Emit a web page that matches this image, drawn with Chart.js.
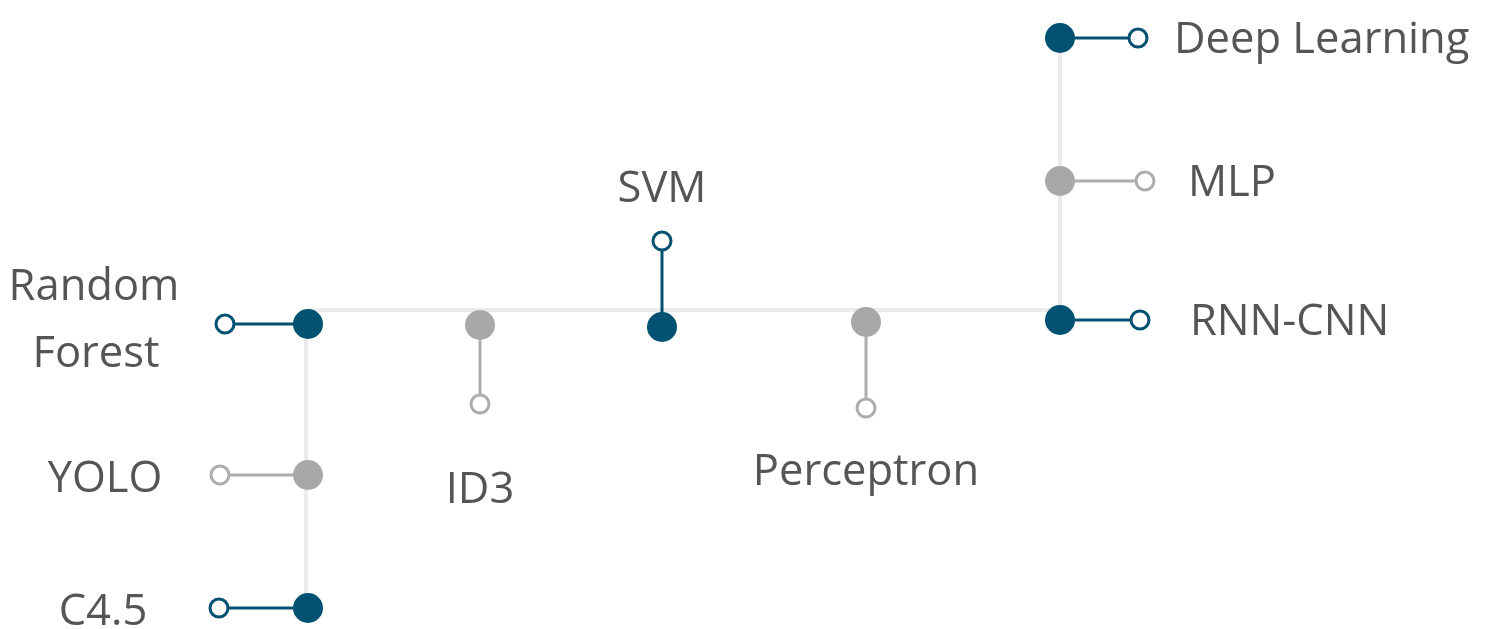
<!DOCTYPE html>
<html>
<head>
<meta charset="utf-8">
<script src="https://cdn.jsdelivr.net/npm/chart.js@4/dist/chart.umd.min.js"></script>
<style>
  html, body { margin: 0; padding: 0; background: #ffffff; }
  #wrap { width: 1487px; height: 629px; }
</style>
</head>
<body>
<div id="wrap"><canvas id="c" width="1487" height="629"></canvas></div>
<script>
// ---- data ----
const nodeNames  = ['Random\nForest', 'YOLO', 'C4.5', 'ID3', 'SVM', 'Perceptron', 'RNN-CNN', 'MLP', 'Deep Learning'];
const nodeKind   = ['major', 'minor', 'major', 'minor', 'major', 'minor', 'major', 'minor', 'major'];
const nodeX      = [308, 308, 308, 480, 662, 866, 1060, 1060, 1060];
const nodeY      = [324, 475, 608, 325, 327, 322, 320, 181, 38];
const leafX      = [225, 220, 219, 480, 662, 866, 1140, 1145, 1138];
const leafY      = [324, 475, 608, 404, 241, 408, 320, 181, 38];
const labelX     = [94, 105, 103, 480, 662, 866, 1190, 1188, 1174];
const labelY     = [321, 480, 613, 491, 190, 473, 323, 184, 41];
const labelAlign = ['center', 'center', 'center', 'center', 'center', 'center', 'left', 'left', 'left'];
// spine segments: [x1, y1, x2, y2]
const spineMain  = [308, 310, 1060, 310];
const spineLeft  = [306, 310, 306, 608];
const spineRight = [1060, 38, 1060, 310];

const BLUE = '#005172';
const GRAY_DOT = '#a8a8a8';
const GRAY_LINE = '#adadad';
const SPINE = '#ebebeb';
const TEXT = '#555555';

function seg(s) {
  return {
    data: [{x: s[0], y: s[1]}, {x: s[2], y: s[3]}],
    showLine: true, borderColor: SPINE, borderWidth: 4, pointRadius: 0,
    clip: false, order: 3
  };
}

const datasets = [seg(spineMain), seg(spineLeft), seg(spineRight)];
nodeNames.forEach((n, i) => {
  const major = nodeKind[i] === 'major';
  const col = major ? BLUE : GRAY_DOT;
  const lineCol = major ? BLUE : GRAY_LINE;
  datasets.push({
    label: n,
    data: [{x: leafX[i], y: leafY[i]}, {x: nodeX[i], y: nodeY[i]}],
    showLine: true,
    borderColor: lineCol,
    borderWidth: 3,
    pointRadius: [9, 15],
    pointHoverRadius: [9, 15],
    pointBackgroundColor: ['#ffffff', col],
    pointBorderColor: [lineCol, col],
    pointBorderWidth: [3, 0],
    clip: false,
    order: 1
  });
});

const labelPlugin = {
  id: 'labels',
  afterDatasetsDraw(chart) {
    const ctx = chart.ctx;
    const xs = chart.scales.x, ys = chart.scales.y;
    ctx.save();
    ctx.fillStyle = TEXT;
    ctx.font = '43.5px "Open Sans", "DejaVu Sans", sans-serif';
    ctx.textBaseline = 'middle';
    nodeNames.forEach((n, i) => {
      ctx.textAlign = labelAlign[i];
      const lines = n.split('\n');
      const lh = 67;
      const px = xs.getPixelForValue(labelX[i]);
      const py = ys.getPixelForValue(labelY[i]);
      lines.forEach((ln, k) => {
        ctx.fillText(ln, px + (k === 1 ? 2 : 0), py + (k - (lines.length - 1) / 2) * lh);
      });
    });
    ctx.restore();
  }
};

new Chart(document.getElementById('c'), {
  type: 'scatter',
  data: { datasets },
  options: {
    responsive: false,
    animation: false,
    devicePixelRatio: 1,
    layout: { padding: 0, autoPadding: false },
    plugins: { legend: { display: false }, tooltip: { enabled: false } },
    scales: {
      x: { type: 'linear', min: 0, max: 1487, display: false },
      y: { type: 'linear', min: 0, max: 629, reverse: true, display: false }
    },
    elements: { line: { tension: 0 } }
  },
  plugins: [labelPlugin]
});
</script>
</body>
</html>
